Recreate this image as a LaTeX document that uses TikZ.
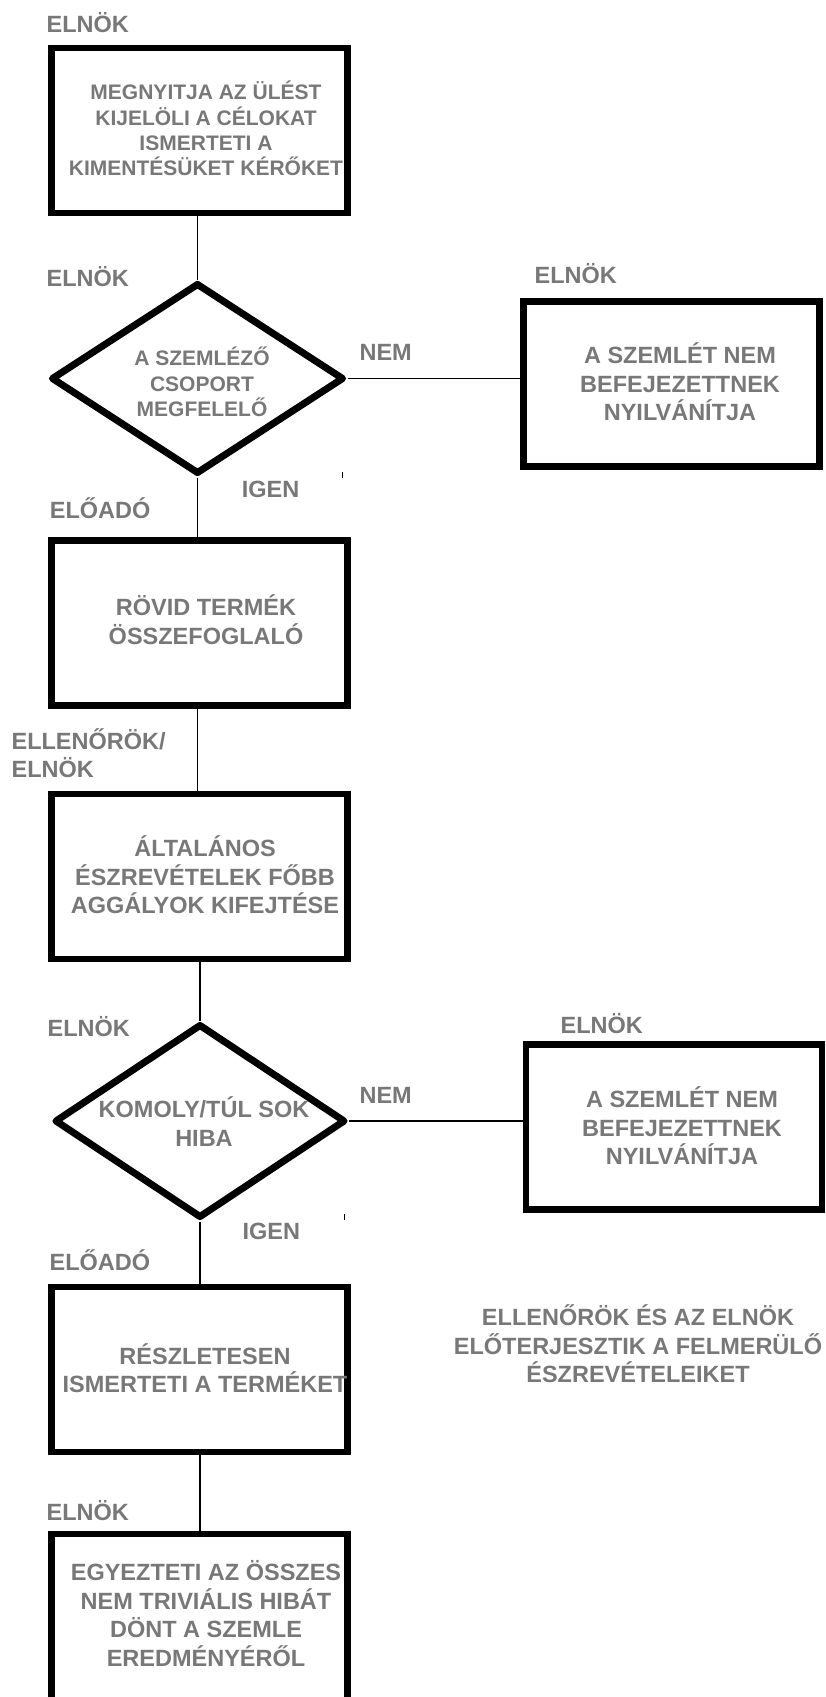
\documentclass[tikz,border=0pt]{standalone}
\usepackage{fontspec}
\setmainfont{Liberation Sans}
\usetikzlibrary{shapes.geometric}
\definecolor{txtgray}{RGB}{120,120,120}
\begin{document}
\begin{tikzpicture}[x=1pt,y=-1pt,
  stepbox/.style={draw=black, line width=6.5pt, minimum width=296pt, minimum height=165pt, inner sep=0pt},
  decision/.style={diamond, draw=black, line width=7pt, line join=round, inner sep=0pt},
  conn/.style={draw=black, line width=1.5pt},
  bigtxt/.style={text=txtgray, font=\bfseries\fontsize{23.5}{28.5}\selectfont, align=center, inner sep=0pt},
  smalltxt/.style={text=txtgray, font=\bfseries\fontsize{21}{25.4}\selectfont, align=center, inner sep=0pt},
  lbl/.style={text=txtgray, font=\bfseries\fontsize{23.5}{27.5}\selectfont, inner sep=0pt, anchor=base west}]
\useasboundingbox (0,0) rectangle (826,1697);
\clip (0,0) rectangle (826,1697);
\fill[white] (0,0) rectangle (826,1697);

% boxes
\node[stepbox] (b1) at (199.5,130.4) {};
\node[stepbox] (b2) at (671.4,384.1) {};
\node[stepbox] (b3) at (199.5,622.9) {};
\node[stepbox] (b4) at (199.4,876.6) {};
\node[stepbox] (b5) at (674,1127) {};
\node[stepbox] (b6) at (199.5,1369.5) {};
\node[stepbox, minimum height=170pt] (b7) at (199.5,1619.2) {};

% decisions
\node[decision, minimum width=293pt, minimum height=191pt] (d1) at (197.5,378.5) {};
\node[decision, minimum width=291pt, minimum height=194pt] (d2) at (200,1121) {};

% connectors
\draw[conn] (d1.north |- b1.south) -- (d1.north);
\draw[conn] (d1.south) -- (d1.south |- b3.north);
\draw[conn] (d1.east) -- (d1.east -| b2.west);
\draw[conn] (d1.south |- b3.south) -- (d1.south |- b4.north);
\draw[conn] (d2.north |- b4.south) -- (d2.north);
\draw[conn] (d2.east) -- (d2.east -| b5.west);
\draw[conn] (d2.south) -- (d2.south |- b6.north);
\draw[conn] (d2.south |- b6.south) -- (d2.south |- b7.north);

% small ticks
\draw[line width=1pt] (342,472) -- (342,478);
\draw[line width=1pt] (344,1214) -- (344,1220);

% texts
\node[smalltxt] (t1) at (206,128.5) {MEGNYITJA AZ ÜLÉST\\KIJELÖLI A CÉLOKAT\\ISMERTETI A\\KIMENTÉSÜKET KÉRŐKET};
\node[smalltxt] (t2) at (202,382) {A SZEMLÉZŐ\\CSOPORT\\MEGFELELŐ};
\node[bigtxt] (t3) at (680,382) {A SZEMLÉT NEM\\BEFEJEZETTNEK\\NYILVÁNÍTJA};
\node[bigtxt] (t4) at (206,619.7) {RÖVID TERMÉK\\ÖSSZEFOGLALÓ};
\node[bigtxt] (t5) at (205,875) {ÁLTALÁNOS\\ÉSZREVÉTELEK FŐBB\\AGGÁLYOK KIFEJTÉSE};
\node[bigtxt] (t6) at (204,1121.7) {KOMOLY/TÚL SOK\\HIBA};
\node[bigtxt] (t7) at (682,1126) {A SZEMLÉT NEM\\BEFEJEZETTNEK\\NYILVÁNÍTJA};
\node[bigtxt] (t8) at (205,1368) {RÉSZLETESEN\\ISMERTETI A TERMÉKET};
\node[bigtxt] (t9) at (206,1613.6) {EGYEZTETI AZ ÖSSZES\\NEM TRIVIÁLIS HIBÁT\\DÖNT A SZEMLE\\EREDMÉNYÉRŐL};
\node[bigtxt] (t10) at (638,1344) {ELLENŐRÖK ÉS AZ ELNÖK\\ELŐTERJESZTIK A FELMERÜLŐ\\ÉSZREVÉTELEIKET};

% role labels
\node[lbl] (l1) at (46.4,32.7) {ELNÖK};
\node[lbl] (l2) at (46.5,286.5) {ELNÖK};
\node[lbl] (l3) at (534.4,283.3) {ELNÖK};
\node[lbl] (l4) at (359.4,360) {NEM};
\node[lbl] (l5) at (241.6,497) {IGEN};
\node[lbl] (l6) at (49.7,518.7) {ELŐADÓ};
\node[lbl, anchor=west, align=left] (l7) at (11.4,753.2) {ELLENŐRÖK/\\ELNÖK};
\node[lbl] (l8) at (47.4,1036.7) {ELNÖK};
\node[lbl] (l9) at (560.4,1033.3) {ELNÖK};
\node[lbl] (l10) at (359.4,1103.3) {NEM};
\node[lbl] (l11) at (242.4,1239.3) {IGEN};
\node[lbl] (l12) at (49.4,1270) {ELŐADÓ};
\node[lbl] (l13) at (46.4,1520.7) {ELNÖK};
\end{tikzpicture}
\end{document}
